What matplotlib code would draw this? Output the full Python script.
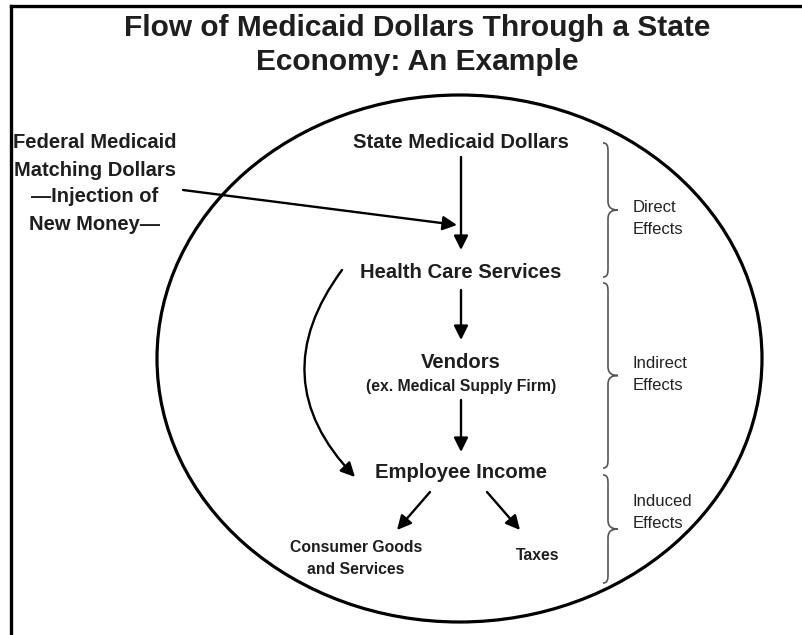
import matplotlib
matplotlib.use("Agg")
import matplotlib.pyplot as plt
from matplotlib.patches import Ellipse, PathPatch
from matplotlib.path import Path

# ---- content ----
title_lines = ["Flow of Medicaid Dollars Through a State", "Economy: An Example"]
federal_lines = ["Federal Medicaid", "Matching Dollars", "\u2014Injection of", "New Money\u2014"]
flow_nodes = ["State Medicaid Dollars", "Health Care Services", "Vendors", "Employee Income"]
vendor_note = "(ex. Medical Supply Firm)"
outcome_left = ["Consumer Goods", "and Services"]
outcome_right = "Taxes"
effect_labels = [["Direct", "Effects"], ["Indirect", "Effects"], ["Induced", "Effects"]]

# ---- layout (pixel coordinates, y downward) ----
W, H = 803, 635
node_y = [143, 273, 362, 473]
node_x = 461
brace_spans = [(143, 277), (283, 468), (475, 583)]
brace_label_y = [(208, 229), (363, 386), (502, 524)]

FONT = "Liberation Sans"
TXT = "#1e1e1e"

fig = plt.figure(figsize=(W / 100, H / 100), dpi=100)
ax = fig.add_axes([0, 0, 1, 1])
ax.set_xlim(0, W)
ax.set_ylim(H, 0)
ax.axis("off")

# frame lines (left and top)
ax.plot([11, 11], [6, H + 5], color="black", lw=2.4, solid_capstyle="projecting")
ax.plot([11, W + 5], [6, 6], color="black", lw=2.4, solid_capstyle="projecting")

# title
for i, t in enumerate(title_lines):
    ax.text(417, 28 + i * 34, t, ha="center", va="center", fontsize=21.5,
            fontweight="bold", family=FONT, color=TXT)

# economy ellipse
ax.add_patch(Ellipse((459.5, 358.5), 605, 527, fill=False, lw=2.3, ec="black"))

# federal text
for i, t in enumerate(federal_lines):
    ax.text(95, 143 + i * 27, t, ha="center", va="center", fontsize=14.5,
            fontweight="bold", family=FONT, color=TXT)

# nodes
for t, y in zip(flow_nodes, node_y):
    ax.text(node_x, y, t, ha="center", va="center", fontsize=14.6,
            fontweight="bold", family=FONT, color=TXT)
ax.text(node_x, 387, vendor_note, ha="center", va="center", fontsize=11.3,
        fontweight="bold", family=FONT, color=TXT)
for i, t in enumerate(outcome_left):
    ax.text(356, 548 + i * 22, t, ha="center", va="center", fontsize=11.3,
            fontweight="bold", family=FONT, color=TXT)
ax.text(538, 555, outcome_right, ha="center", va="center", fontsize=11.3,
        fontweight="bold", family=FONT, color=TXT)

def arrow(p0, p1, conn="arc3,rad=0"):
    ax.annotate("", xy=p1, xytext=p0,
                arrowprops=dict(arrowstyle="-|>,head_length=0.5,head_width=0.25",
                                lw=1.7, color="black",
                                mutation_scale=17, shrinkA=0, shrinkB=0,
                                connectionstyle=conn))

arrow((461, 157), (461, 250))
arrow((183, 190), (457, 225))
arrow((461, 290), (461, 340))
arrow((461, 400), (461, 452))
arrow((430, 492), (397, 530))
arrow((487, 492), (520, 530))
arrow((342, 270), (355, 477), conn="arc3,rad=0.42")

# braces
def brace(y0, y1, x=608, tip=618, w=5, r=9):
    ym = (y0 + y1) / 2
    verts = [(x - w, y0), (x, y0), (x, y0 + r / 2), (x, y0 + r),
             (x, ym - r),
             (x, ym - 2), (tip - 6, ym), (tip, ym),
             (tip - 6, ym), (x, ym + 2), (x, ym + r),
             (x, y1 - r),
             (x, y1 - r / 2), (x, y1), (x - w, y1)]
    codes = [Path.MOVETO, Path.CURVE4, Path.CURVE4, Path.CURVE4,
             Path.LINETO,
             Path.CURVE4, Path.CURVE4, Path.CURVE4,
             Path.CURVE4, Path.CURVE4, Path.CURVE4,
             Path.LINETO,
             Path.CURVE4, Path.CURVE4, Path.CURVE4]
    ax.add_patch(PathPatch(Path(verts, codes), fill=False, ec="#555555", lw=1.2))

for (y0, y1), lbl, (ly0, ly1) in zip(brace_spans, effect_labels, brace_label_y):
    brace(y0, y1)
    ax.text(633, ly0, lbl[0], ha="left", va="center", fontsize=12,
            family=FONT, color="#222222")
    ax.text(633, ly1, lbl[1], ha="left", va="center", fontsize=12,
            family=FONT, color="#222222")

fig.savefig("out.png", dpi=100)
